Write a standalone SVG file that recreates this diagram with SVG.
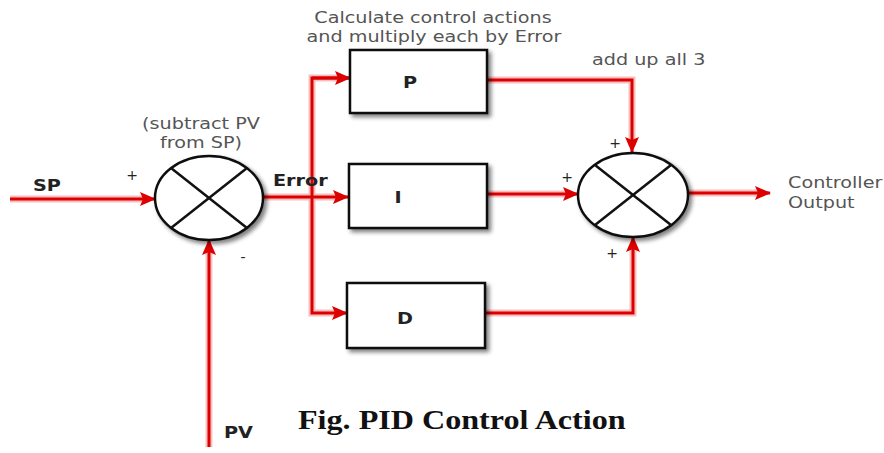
<svg xmlns="http://www.w3.org/2000/svg" width="884" height="453" viewBox="0 0 884 453">
<defs>
<marker id="ah" markerUnits="userSpaceOnUse" markerWidth="16" markerHeight="14" viewBox="0 0 16 14" refX="15" refY="7" orient="auto">
<path d="M0,0 L16,7 L0,14 L3,7 Z" fill="#dd0000"/>
</marker>
<filter id="sh" x="-20%" y="-20%" width="150%" height="150%">
<feGaussianBlur in="SourceAlpha" stdDeviation="2"/>
<feOffset dx="3" dy="3" result="b"/>
<feComponentTransfer><feFuncA type="linear" slope="0.5"/></feComponentTransfer>
<feMerge><feMergeNode/><feMergeNode in="SourceGraphic"/></feMerge>
</filter>
</defs>
<style>
.w{fill:none;stroke:#dd0000;stroke-width:3}
.halo{fill:none;stroke:#f4b0b0;stroke-width:7}
.box{fill:#fff;stroke:#111;stroke-width:2.5}
.sum{fill:#fff;stroke:#111;stroke-width:2.5}
.x{stroke:#111;stroke-width:2.5}
.lb{font-family:"DejaVu Sans",Verdana,sans-serif;font-weight:bold;font-size:16px;fill:#222}
.nt{font-family:"DejaVu Sans",Verdana,sans-serif;font-size:16px;fill:#555}
.sg{font-family:"DejaVu Sans",Verdana,sans-serif;font-size:14px;fill:#222}
.fig{font-family:"Liberation Serif","Times New Roman",serif;font-weight:bold;font-size:27px;fill:#111}
</style>
<rect width="884" height="453" fill="#fff"/>
<g id="connectors">
<g opacity="0.8">
<path class="halo" d="M10,199 H148"/>
<path class="halo" d="M209,447 V247"/>
<path class="halo" d="M263,197 H340"/>
<path class="halo" d="M343,78 H312 V313 H340"/>
<path class="halo" d="M487,80 H632 V146"/>
<path class="halo" d="M487,194 H571"/>
<path class="halo" d="M485,313 H633 V244"/>
<path class="halo" d="M688,193 H763"/>
</g>
<path class="w" d="M10,199 H155" marker-end="url(#ah)"/>
<path class="w" d="M209,447 V240" marker-end="url(#ah)"/>
<path class="w" d="M263,197 H348" marker-end="url(#ah)"/>
<path class="w" d="M350,78 H312 V313 H347" marker-end="url(#ah)"/>
<path class="w" d="M312,78 H350" marker-end="url(#ah)"/>
<path class="w" d="M487,80 H632 V152" marker-end="url(#ah)"/>
<path class="w" d="M487,194 H578" marker-end="url(#ah)"/>
<path class="w" d="M485,313 H633 V237" marker-end="url(#ah)"/>
<path class="w" d="M688,193 H770" marker-end="url(#ah)"/>
</g>
<g id="sum1">
<ellipse class="sum" cx="209" cy="198" rx="54" ry="42" filter="url(#sh)"/>
<line class="x" x1="171" y1="168" x2="247" y2="228"/>
<line class="x" x1="247" y1="168" x2="171" y2="228"/>
</g>
<g id="sum2">
<ellipse class="sum" cx="633" cy="195" rx="55" ry="42" filter="url(#sh)"/>
<line class="x" x1="595" y1="165" x2="671" y2="225"/>
<line class="x" x1="671" y1="165" x2="595" y2="225"/>
</g>
<g id="P">
<rect class="box" x="350" y="50" width="137" height="63" filter="url(#sh)"/>
<text class="lb" transform="translate(410,88) scale(1.2,1)" text-anchor="middle">P</text>
</g>
<g id="I">
<rect class="box" x="349" y="164" width="138" height="64" filter="url(#sh)"/>
<text class="lb" transform="translate(398,203) scale(1.2,1)" text-anchor="middle">I</text>
</g>
<g id="D">
<rect class="box" x="347" y="283" width="138" height="65" filter="url(#sh)"/>
<text class="lb" transform="translate(405,324) scale(1.2,1)" text-anchor="middle">D</text>
</g>
<g id="labels">
<text class="lb" transform="translate(33,191) scale(1.2,1)">SP</text>
<text class="lb" transform="translate(224,438) scale(1.2,1)">PV</text>
<text class="lb" transform="translate(273,186) scale(1.2,1)">Error</text>
<text class="sg" x="132" y="180" text-anchor="middle">+</text>
<text class="sg" x="243" y="262" text-anchor="middle">-</text>
<text class="sg" x="615" y="148" text-anchor="middle">+</text>
<text class="sg" x="567" y="182" text-anchor="middle">+</text>
<text class="sg" x="612" y="258" text-anchor="middle">+</text>
<text class="nt" transform="translate(201,129) scale(1.2,1)" text-anchor="middle">(subtract PV</text>
<text class="nt" transform="translate(201,148) scale(1.2,1)" text-anchor="middle">from SP)</text>
<text class="nt" transform="translate(433,23) scale(1.2,1)" text-anchor="middle">Calculate control actions</text>
<text class="nt" transform="translate(434,42) scale(1.2,1)" text-anchor="middle">and multiply each by Error</text>
<text class="nt" transform="translate(592,65) scale(1.2,1)">add up all 3</text>
<text class="nt" transform="translate(788,188) scale(1.2,1)">Controller</text>
<text class="nt" transform="translate(788,208) scale(1.2,1)">Output</text>
<text class="fig" transform="translate(298,429) scale(1.19,1)">Fig. PID Control Action</text>
</g>
</svg>
